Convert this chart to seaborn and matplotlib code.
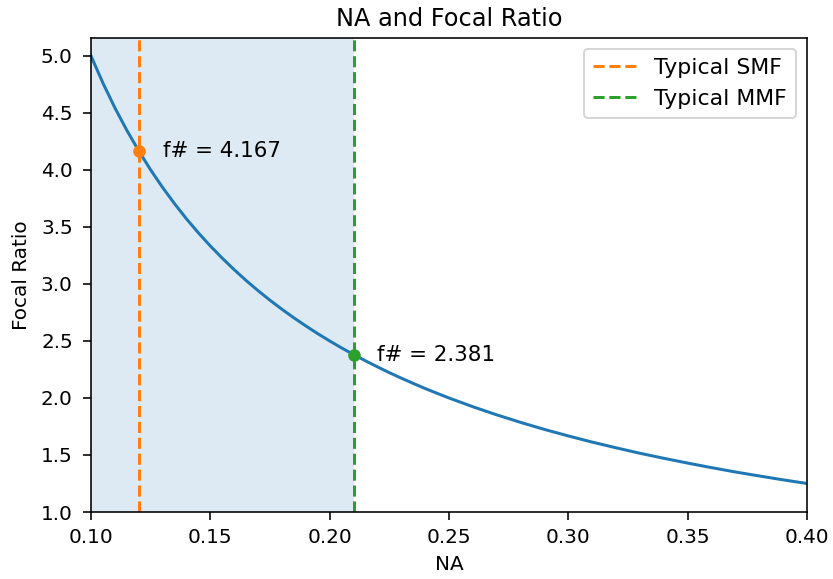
import matplotlib
matplotlib.use("Agg")
import matplotlib.pyplot as plt
import seaborn as sns
import pandas as pd

# Values
na_values = [0.100, 0.105, 0.110, 0.115, 0.120, 0.125, 0.130, 0.135, 0.140, 0.145,
             0.150, 0.155, 0.160, 0.165, 0.170, 0.175, 0.180, 0.185, 0.190, 0.195,
             0.200, 0.205, 0.210, 0.215, 0.220, 0.225, 0.230, 0.235, 0.240, 0.245,
             0.250, 0.260, 0.270, 0.280, 0.290, 0.300, 0.310, 0.320, 0.330, 0.340,
             0.350, 0.360, 0.370, 0.380, 0.390, 0.400]
focal_ratio = [5.000, 4.762, 4.545, 4.348, 4.167, 4.000, 3.846, 3.704, 3.571, 3.448,
               3.333, 3.226, 3.125, 3.030, 2.941, 2.857, 2.778, 2.703, 2.632, 2.564,
               2.500, 2.439, 2.381, 2.326, 2.273, 2.222, 2.174, 2.128, 2.083, 2.041,
               2.000, 1.923, 1.852, 1.786, 1.724, 1.667, 1.613, 1.563, 1.515, 1.471,
               1.429, 1.389, 1.351, 1.316, 1.282, 1.250]

fiber_labels = ["Typical SMF", "Typical MMF"]
fiber_na = [0.12, 0.21]
fiber_f = [4.167, 2.381]
fiber_colors = ["#ff7f0e", "#2ca02c"]

df = pd.DataFrame({"NA": na_values, "Focal Ratio": focal_ratio})

DPI = 144
fig = plt.figure(figsize=(833 / DPI, 579 / DPI), dpi=DPI)
ax = fig.add_axes([91/833, 1 - 512/579, (807-91)/833, (512-38)/579])

ax.axvspan(na_values[0], fiber_na[1], color="#1f77b4", alpha=0.15, lw=0)
sns.lineplot(data=df, x="NA", y="Focal Ratio", ax=ax, color="#1f77b4", lw=1.5)

for lab, x, f, c in zip(fiber_labels, fiber_na, fiber_f, fiber_colors):
    ax.axvline(x, color=c, ls="--", lw=1.5, label=lab)
    ax.plot([x], [f], "o", color=c, ms=6.3, mec="none", zorder=5)
    ax.text(x + 0.01, f, f"f# = {f:.3f}", va="center", ha="left", fontsize=10.7)

ax.set_xlim(0.10, 0.40)
ax.set_ylim(1.0, 5.157)
ax.set_xticks([0.10, 0.15, 0.20, 0.25, 0.30, 0.35, 0.40])
ax.set_yticks([1.0, 1.5, 2.0, 2.5, 3.0, 3.5, 4.0, 4.5, 5.0])
ax.tick_params(labelsize=10, length=3.8)
ax.tick_params(axis="y", pad=5.3)
ax.tick_params(axis="x", pad=4.2)
ax.set_xlabel("NA", fontsize=10)
ax.set_ylabel("Focal Ratio", fontsize=10, labelpad=5)
ax.set_title("NA and Focal Ratio", fontsize=12)
ax.legend(loc="upper right", fontsize=11)

fig.savefig("out.png", dpi=DPI)
